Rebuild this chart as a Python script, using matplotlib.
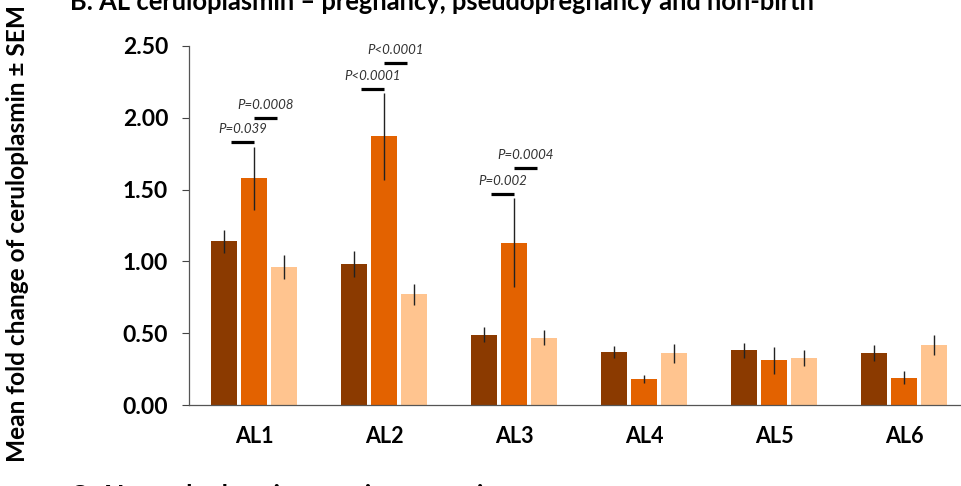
import numpy as np
import matplotlib
matplotlib.use("Agg")
import matplotlib.pyplot as plt

plt.rcParams['font.family'] = ['Lato', 'DejaVu Sans']

# data
groups = ['AL1', 'AL2', 'AL3', 'AL4', 'AL5', 'AL6']
pregnancy = [1.14, 0.98, 0.49, 0.37, 0.38, 0.36]
pregnancy_sem = [0.08, 0.09, 0.05, 0.04, 0.05, 0.055]
pseudo = [1.58, 1.87, 1.13, 0.18, 0.31, 0.19]
pseudo_sem = [0.22, 0.30, 0.31, 0.03, 0.095, 0.045]
nonbirth = [0.96, 0.77, 0.47, 0.36, 0.325, 0.42]
nonbirth_sem = [0.085, 0.075, 0.05, 0.065, 0.055, 0.07]

# significance annotations: (group index, which pair, height, label)
sig_group = [0, 0, 1, 1, 2, 2]
sig_pair = ['low', 'high', 'low', 'high', 'low', 'high']
sig_y = [1.83, 2.00, 2.20, 2.38, 1.47, 1.65]
sig_text = ['P=0.039', 'P=0.0008', 'P<0.0001', 'P<0.0001', 'P=0.002', 'P=0.0004']

colors = ['#8B3A00', '#E36200', '#FFC48F']

fig = plt.figure(figsize=(9.62, 4.86), dpi=100)
ax = fig.add_axes([189/962, 1 - 405/486, (961 - 189)/962, (405 - 46)/486])

x = np.arange(len(groups))
off = 0.227
w = 0.2
series = [(pregnancy, pregnancy_sem), (pseudo, pseudo_sem), (nonbirth, nonbirth_sem)]
for k, (vals, sem) in enumerate(series):
    ax.bar(x + (k - 1) * off, vals, w, color=colors[k], zorder=2)
    ax.errorbar(x + (k - 1) * off, vals, yerr=sem, fmt='none',
                ecolor='#222222', elinewidth=1.0, capsize=0, zorder=3)

for g, p, yy, t in zip(sig_group, sig_pair, sig_y, sig_text):
    if p == 'low':
        x0, x1 = g - 0.175, g
    else:
        x0, x1 = g, g + 0.18
    ax.plot([x0, x1], [yy, yy], color='black', lw=2.3, solid_capstyle='butt')
    ax.text((x0 + x1) / 2, yy + 0.05, t, ha='center', va='bottom',
            fontsize=9.5, style='italic', color='#333333')

ax.set_ylim(0, 2.5)
ax.set_xlim(-0.5, (961 - 254) / 130)
ax.set_yticks([0, 0.5, 1.0, 1.5, 2.0, 2.5])
ax.set_yticklabels(['%.2f' % v for v in [0, 0.5, 1.0, 1.5, 2.0, 2.5]],
                   fontsize=16.5, fontweight='bold')
ax.set_xticks(x)
ax.set_xticklabels(groups, fontsize=15.5, fontweight='bold')
ax.tick_params(axis='x', length=0, pad=15)
ax.tick_params(axis='y', length=5, width=0.8, color='#444444', pad=10)
for s in ['top', 'right']:
    ax.spines[s].set_visible(False)
for s in ['left', 'bottom']:
    ax.spines[s].set_color('#555555')
    ax.spines[s].set_linewidth(0.9)

fig.text(70/962, 1 - 10/486, 'B. AL ceruloplasmin \u2013 pregnancy, pseudopregnancy and non-birth',
         fontsize=18.4, fontweight='bold', ha='left', va='baseline')
fig.text(70/962, 1 - 504/486, 'C. AL ceruloplasmin \u2013 strain comparison',
         fontsize=18.4, fontweight='bold', ha='left', va='baseline')
fig.text(18/962, 1 - 233/486, 'Mean fold change of ceruloplasmin \u00b1 SEM',
         fontsize=17.6, fontweight='bold', rotation=90, ha='center', va='center')

fig.savefig('out.png', dpi=100)
